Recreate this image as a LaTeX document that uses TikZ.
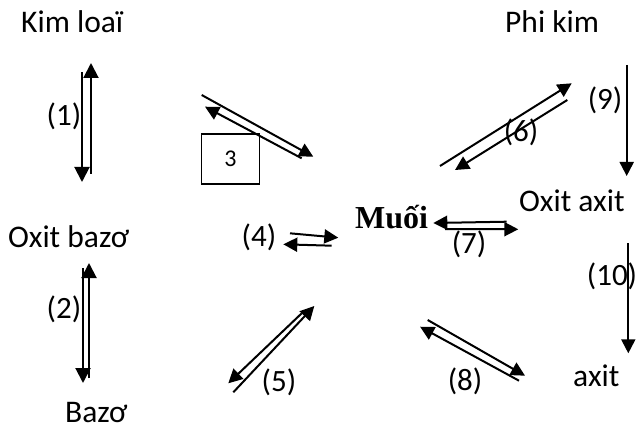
\documentclass[tikz,border=0pt]{standalone}
\usepackage{fontspec}
\setmainfont{Carlito}
\newfontfamily\serifbold{Liberation Serif}
\usetikzlibrary{arrows.meta}
\begin{document}
\begin{tikzpicture}[x=1pt,y=-1pt,
  txt/.style={inner sep=0pt, anchor=base west, font=\fontsize{31.5}{36}\selectfont},
  num/.style={inner sep=0pt, anchor=base, font=\fontsize{31}{36}\selectfont},
  arr/.style={line width=2pt, -{Triangle[length=14pt,width=14pt]}},
  bigarr/.style={line width=2pt, -{Triangle[length=15pt,width=15pt]}},
  boxed/.style={draw, line width=1.2pt, inner sep=0pt, minimum width=58pt, minimum height=50pt,
    font=\fontsize{24}{28}\selectfont}]
\useasboundingbox (0,0) rectangle (636,430);
% texts
\node[txt] (kimloai) at (21,33) {Kim loaï};
\node[txt] (phikim) at (505,33) {Phi kim};
\node[txt] (oxitbazo) at (8,247) {Oxit bazơ};
\node[txt, font=\serifbold\bfseries\fontsize{32}{36}\selectfont] (muoi) at (355,228.5) {Muối};
\node[txt] (oxitaxit) at (519,211.5) {Oxit axit};
\node[txt] (bazo) at (65,422) {Bazơ};
\node[txt] (axit) at (573,386.5) {axit};
\node[boxed] (box3) at (230.5,159) {3};
% labels
\node[num] (l1) at (64,126) {(1)};
\node[num] (l2) at (64,318) {(2)};
\node[num] (l4) at (259,246) {(4)};
\node[num] (l5) at (279,391.5) {(5)};
\node[num] (l6) at (521,141.5) {(6)};
\node[num] (l7) at (469,253) {(7)};
\node[num] (l8) at (465,390) {(8)};
\node[num] (l9) at (605,110) {(9)};
\node[num] (l10) at (612,285) {(10)};
% end points
\coordinate (a1s) at (82,72);   \coordinate (a1e) at (82,182);
\coordinate (b1s) at (91,174);  \coordinate (b1e) at (91,63);
\coordinate (a2s) at (83,268);  \coordinate (a2e) at (83,383);
\coordinate (b2s) at (89,378);  \coordinate (b2e) at (89,263);
\coordinate (a3s) at (201.7,95);  \coordinate (a3e) at (313.3,156.7);
\coordinate (b3s) at (301.7,158.3); \coordinate (b3e) at (205,106.7);
\coordinate (a4s) at (290,233.3); \coordinate (a4e) at (338.3,237.7);
\coordinate (b4s) at (331.7,245.7); \coordinate (b4e) at (283.3,244.3);
\coordinate (a5s) at (233.3,392.3); \coordinate (a5e) at (314.3,306);
\coordinate (b5s) at (301.7,313.3); \coordinate (b5e) at (228.3,383.3);
\coordinate (a6s) at (440,166); \coordinate (a6e) at (571.7,83.3);
\coordinate (b6s) at (567.3,100); \coordinate (b6e) at (455,170);
\coordinate (a7s) at (506.7,221.7); \coordinate (a7e) at (433.3,223);
\coordinate (b7s) at (445,229); \coordinate (b7e) at (518.3,229.3);
\coordinate (a8s) at (427.7,320); \coordinate (a8e) at (525,375.7);
\coordinate (b8s) at (519,380.7); \coordinate (b8e) at (420,326.7);
\coordinate (a9s) at (626.7,65); \coordinate (a9e) at (626.7,176);
\coordinate (a10s) at (628.3,243.3); \coordinate (a10e) at (628.3,353.3);
% arrows
\draw[bigarr] (a1s) -- (a1e);
\draw[bigarr] (b1s) -- (b1e);
\draw[bigarr] (a2s) -- (a2e);
\draw[bigarr] (b2s) -- (b2e);
\draw[arr] (a3s) -- (a3e);
\draw[arr] (b3s) -- (b3e);
\draw[arr] (a4s) -- (a4e);
\draw[arr] (b4s) -- (b4e);
\draw[arr] (a5s) -- (a5e);
\draw[arr] (b5s) -- (b5e);
\draw[arr] (a6s) -- (a6e);
\draw[arr] (b6s) -- (b6e);
\draw[arr] (a7s) -- (a7e);
\draw[arr] (b7s) -- (b7e);
\draw[arr] (a8s) -- (a8e);
\draw[arr] (b8s) -- (b8e);
\draw[arr] (a9s) -- (a9e);
\draw[arr] (a10s) -- (a10e);
\end{tikzpicture}
\end{document}
